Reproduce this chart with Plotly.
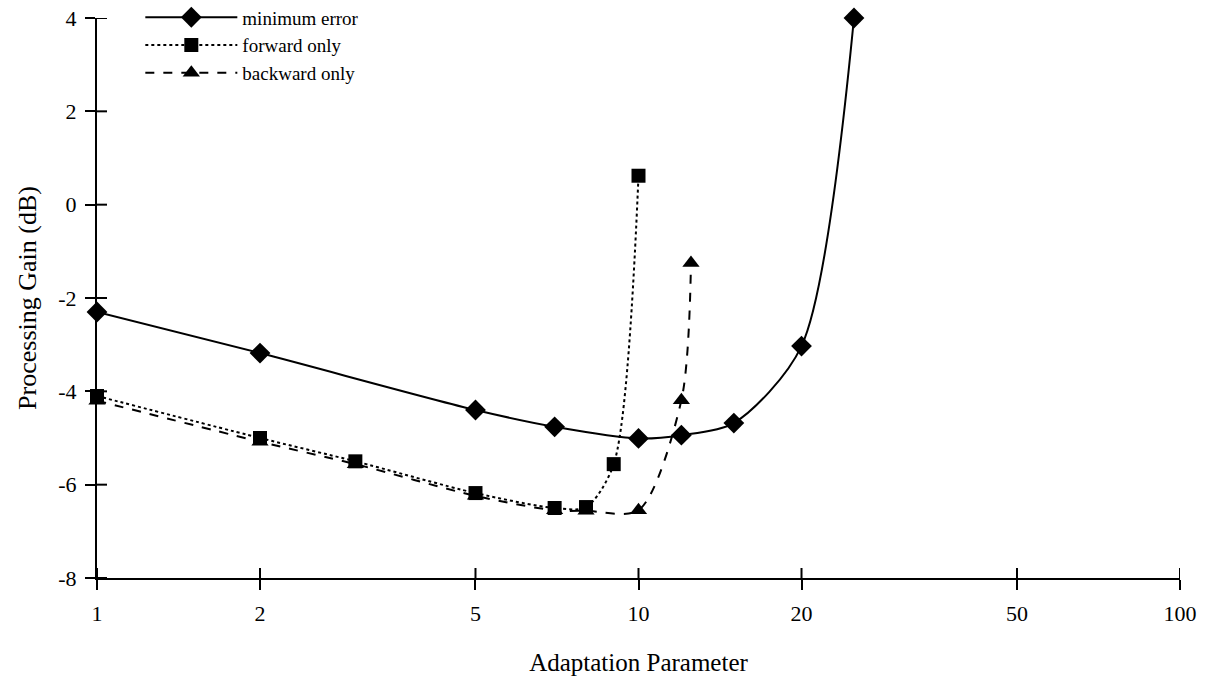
import plotly.graph_objects as go

# Data
min_x = [1, 2, 5, 7, 10, 12, 15, 20, 25]
min_y = [-2.3, -3.18, -4.4, -4.76, -5.01, -4.94, -4.68, -3.03, 4.0]

fwd_x = [1, 2, 3, 5, 7, 8, 9, 10]
fwd_y = [-4.1, -5.0, -5.5, -6.18, -6.5, -6.48, -5.56, 0.62]

bwd_x = [1, 2, 3, 5, 7, 8, 10, 12, 12.5]
bwd_y = [-4.2, -5.08, -5.56, -6.24, -6.55, -6.56, -6.55, -4.19, -1.25]

x_ticks = [1, 2, 5, 10, 20, 50, 100]
y_ticks = [-8, -6, -4, -2, 0, 2, 4]

FONT = "Liberation Serif"

fig = go.Figure()
fig.add_trace(go.Scatter(
    x=min_x, y=min_y, name="minimum error", mode="lines+markers",
    line=dict(color="black", width=2, shape="spline", smoothing=0.8),
    marker=dict(symbol="diamond", size=16, color="black"),
    cliponaxis=False,
))
fig.add_trace(go.Scatter(
    x=fwd_x, y=fwd_y, name="forward only", mode="lines+markers",
    line=dict(color="black", width=2, dash="dot", shape="spline", smoothing=0.8),
    marker=dict(symbol="square", size=14, color="black"),
    cliponaxis=False,
))
fig.add_trace(go.Scatter(
    x=bwd_x, y=bwd_y, name="backward only", mode="lines+markers",
    line=dict(color="black", width=2, dash="dash", shape="spline", smoothing=0.8),
    marker=dict(symbol="triangle-up", size=15, color="black"),
    cliponaxis=False,
))

# inner halves of the crossing tick marks
for v in x_ticks:
    fig.add_shape(type="line", xref="x", yref="paper", x0=v, x1=v,
                  ysizemode="pixel", yanchor=0, y0=0, y1=10,
                  line=dict(color="black", width=2))
for v in y_ticks:
    fig.add_shape(type="line", yref="y", xref="paper", y0=v, y1=v,
                  xsizemode="pixel", xanchor=0, x0=0, x1=10,
                  line=dict(color="black", width=2))

axis_common = dict(showgrid=False, zeroline=False, showline=True,
                   linecolor="black", linewidth=2, tickcolor="black",
                   tickwidth=2, ticklen=10)

fig.update_layout(
    width=1209, height=692,
    margin=dict(l=97, r=29, t=18, b=114, autoexpand=False),
    paper_bgcolor="white", plot_bgcolor="white",
    font=dict(family=FONT, color="black", size=20),
    xaxis=dict(type="log", range=[0, 2], tickvals=x_ticks,
               ticktext=[str(v) for v in x_ticks], ticks="outside",
               tickfont=dict(size=22), ticklabelstandoff=5,
               title=dict(text="Adaptation Parameter", font=dict(size=25), standoff=28),
               **axis_common),
    yaxis=dict(range=[-8, 4], tickvals=y_ticks,
               ticktext=[str(v) for v in y_ticks],
               ticks="outside", tickfont=dict(size=22), ticklabelstandoff=4,
               title=dict(text="Processing Gain (dB)", font=dict(size=26), standoff=14),
               **axis_common),
    legend=dict(x=0.04, y=1.035, xanchor="left", yanchor="top",
                bgcolor="rgba(0,0,0,0)", font=dict(size=19, family=FONT),
                itemwidth=92, tracegroupgap=0),
    showlegend=True,
)

fig.write_html("out.html")
